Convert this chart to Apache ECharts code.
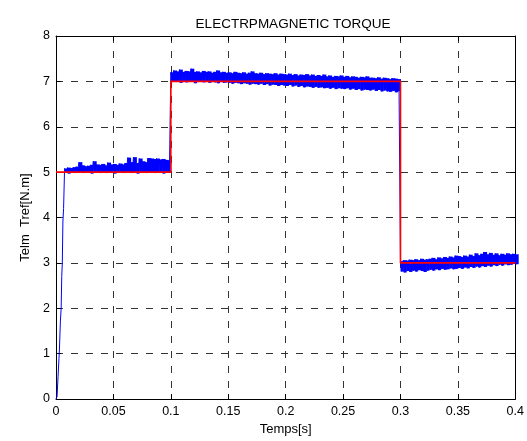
<!DOCTYPE html>
<html>
<head>
<meta charset="utf-8">
<script src="https://cdn.jsdelivr.net/npm/echarts@6/dist/echarts.min.js"></script>
<style>
  html, body { margin: 0; padding: 0; background: #fff; }
  #chart { width: 527px; height: 441px; }
</style>
</head>
<body>
<div id="chart"></div>
<script>
// Axis ranges and tick values
const X_TICKS = [0, 0.05, 0.1, 0.15, 0.2, 0.25, 0.3, 0.35, 0.4];
const Y_TICKS = [0, 1, 2, 3, 4, 5, 6, 7, 8];

// Reference torque Tref: step levels between switching instants
const REF_T = [0, 0.1, 0.1, 0.3, 0.3, 0.4];
const REF_V = [5, 5, 7, 7, 3, 3];

// Electromagnetic torque Telm: start-up rise
const RISE_T = [0, 0.0009, 0.0018, 0.0026, 0.003, 0.0038, 0.0045, 0.005, 0.0055, 0.006, 0.0066, 0.0074];
const RISE_V = [0, 0.05, 0.5, 0.9, 1.1, 1.7, 2.0, 2.7, 3.0, 3.9, 4.2, 5.0];

// Telm ripple band, sampled every 2.5 ms: upper / lower peaks
const SAMPLE_STEP = 0.0025;

const SEG1_START = 0.0075;
const SEG1_UPPER = [5.08, 5.10, 5.09, 5.11, 5.12, 5.22, 5.15, 5.13, 5.14, 5.16,
                    5.24, 5.17, 5.16, 5.18, 5.15, 5.21, 5.17, 5.18, 5.16, 5.19,
                    5.17, 5.20, 5.32, 5.22, 5.33, 5.20, 5.30, 5.24, 5.22, 5.31,
                    5.30, 5.29, 5.30, 5.28, 5.29, 5.27, 5.26];
const SEG1_LOWER = [4.99, 4.97, 5.00, 4.98, 5.00, 4.99, 4.98, 5.00, 4.99, 4.97,
                    5.00, 4.99, 4.98, 5.00, 4.98, 4.99, 5.00, 4.97, 4.99, 5.00,
                    4.98, 4.99, 5.00, 4.98, 4.99, 4.97, 5.00, 4.99, 4.98, 5.00,
                    4.99, 4.98, 5.00, 4.99, 4.97, 4.99, 5.00];

const SEG2_START = 0.1;
const SEG2_UPPER = [7.20, 7.24, 7.22, 7.26, 7.21, 7.23, 7.22, 7.28, 7.21, 7.22,
                    7.20, 7.23, 7.21, 7.22, 7.19, 7.21, 7.24, 7.20, 7.21, 7.19,
                    7.20, 7.18, 7.21, 7.19, 7.18, 7.20, 7.17, 7.19, 7.22, 7.18,
                    7.17, 7.19, 7.16, 7.18, 7.17, 7.16, 7.18, 7.15, 7.17, 7.16,
                    7.15, 7.17, 7.14, 7.16, 7.13, 7.15, 7.14, 7.16, 7.13, 7.15,
                    7.12, 7.14, 7.12, 7.15, 7.11, 7.13, 7.10, 7.12, 7.11, 7.13,
                    7.10, 7.12, 7.09, 7.11, 7.10, 7.08, 7.10, 7.09, 7.11, 7.08,
                    7.08, 7.07, 7.09, 7.06, 7.08, 7.07, 7.05, 7.07, 7.06, 7.05];
const SEG2_LOWER = [7.00, 6.99, 7.01, 6.97, 7.00, 6.98, 7.00, 6.99, 6.96, 7.00,
                    6.99, 6.98, 7.00, 6.97, 6.99, 6.98, 6.96, 6.99, 6.97, 6.98,
                    6.97, 6.95, 6.97, 6.96, 6.94, 6.96, 6.95, 6.93, 6.95, 6.94,
                    6.93, 6.95, 6.92, 6.94, 6.91, 6.93, 6.92, 6.90, 6.92, 6.91,
                    6.90, 6.92, 6.89, 6.91, 6.88, 6.90, 6.87, 6.89, 6.88, 6.86,
                    6.88, 6.86, 6.87, 6.85, 6.86, 6.84, 6.86, 6.83, 6.85, 6.84,
                    6.83, 6.85, 6.82, 6.84, 6.81, 6.83, 6.80, 6.82, 6.81, 6.80,
                    6.82, 6.79, 6.81, 6.78, 6.80, 6.78, 6.77, 6.79, 6.76, 6.78];

const SEG3_START = 0.3;
const SEG3_UPPER = [3.04, 3.06, 3.05, 3.07, 3.06, 3.08, 3.06, 3.09, 3.07, 3.08,
                    3.09, 3.11, 3.08, 3.12, 3.10, 3.13, 3.11, 3.14, 3.12, 3.16,
                    3.15, 3.13, 3.16, 3.14, 3.18, 3.15, 3.21, 3.17, 3.20, 3.24,
                    3.19, 3.22, 3.18, 3.21, 3.17, 3.20, 3.18, 3.21, 3.19, 3.20, 3.19];
const SEG3_LOWER = [2.81, 2.79, 2.82, 2.80, 2.83, 2.81, 2.84, 2.82, 2.80, 2.83,
                    2.85, 2.83, 2.86, 2.84, 2.87, 2.85, 2.86, 2.88, 2.86, 2.87,
                    2.89, 2.87, 2.90, 2.88, 2.91, 2.89, 2.92, 2.90, 2.93, 2.91,
                    2.94, 2.92, 2.95, 2.93, 2.96, 2.94, 2.97, 2.95, 2.96, 2.98, 2.97];

const SEGMENTS = [
  { start: SEG1_START, upper: SEG1_UPPER, lower: SEG1_LOWER },
  { start: SEG2_START, upper: SEG2_UPPER, lower: SEG2_LOWER },
  { start: SEG3_START, upper: SEG3_UPPER, lower: SEG3_LOWER }
];

// Telm trace: rise, then alternate upper/lower peaks half a step apart
const telm = RISE_T.map((t, i) => [t, RISE_V[i]]);
// Ripple band as rectangles [t0, t1, lower, upper] drawn through the axes
const band = [];
SEGMENTS.forEach(seg => {
  const n = Math.min(seg.upper.length, seg.lower.length);
  for (let i = 0; i < n; i++) {
    const t = seg.start + i * SAMPLE_STEP;
    telm.push([t, seg.upper[i]]);
    telm.push([t + SAMPLE_STEP / 2, seg.lower[i]]);
    band.push([t, t + SAMPLE_STEP, seg.lower[i], seg.upper[i]]);
  }
});

const tref = REF_T.map((t, i) => [t, REF_V[i]]);

const BLUE = '#0000ff';
const FONT = '"Liberation Sans", Arial, Helvetica, sans-serif';
const dashed = { color: '#333', width: 1, type: [7, 8] };
const tickStyle = { show: true, inside: true, length: 5, lineStyle: { color: '#000' } };
const frame = { show: true, onZero: false, lineStyle: { color: '#000', width: 1 } };

const chart = echarts.init(document.getElementById('chart'), null, { renderer: 'canvas' });
chart.setOption({
  animation: false,
  backgroundColor: '#fff',
  title: {
    text: 'ELECTRPMAGNETIC TORQUE',
    left: 288, top: 12, textAlign: 'center',
    textStyle: { fontFamily: FONT, fontSize: 13.5, fontWeight: 'normal', color: '#000' }
  },
  grid: { left: 56, right: 7, top: 36, bottom: 36 },
  xAxis: [{
    type: 'value', min: 0, max: 0.4, interval: 0.05,
    name: 'Temps[s]', nameLocation: 'middle', nameGap: 24,
    nameTextStyle: { fontFamily: FONT, fontSize: 13, color: '#000' },
    axisLine: frame, axisTick: tickStyle,
    axisLabel: {
      fontFamily: FONT, fontSize: 12.5, color: '#000', margin: 6,
      customValues: X_TICKS, formatter: v => String(+v.toFixed(2))
    },
    splitLine: { show: true, lineStyle: dashed }
  }, {
    type: 'value', position: 'top', min: 0, max: 0.4, interval: 0.05,
    axisLine: frame, axisTick: tickStyle, axisLabel: { show: false }, splitLine: { show: false }
  }],
  yAxis: [{
    type: 'value', min: 0, max: 8, interval: 1,
    name: 'Telm  Tref[N.m]', nameLocation: 'middle', nameGap: 21,
    nameTextStyle: { fontFamily: FONT, fontSize: 13, color: '#000' },
    axisLine: frame, axisTick: tickStyle,
    axisLabel: { fontFamily: FONT, fontSize: 12.5, color: '#000', margin: 6, customValues: Y_TICKS },
    splitLine: { show: true, lineStyle: dashed }
  }, {
    type: 'value', position: 'right', min: 0, max: 8, interval: 1,
    axisLine: frame, axisTick: tickStyle, axisLabel: { show: false }, splitLine: { show: false }
  }],
  series: [{
    name: 'Telm band', type: 'custom', data: band, z: 2, silent: true,
    encode: { x: [0, 1], y: [2, 3] },
    renderItem: (params, api) => {
      const p0 = api.coord([api.value(0), api.value(3)]);
      const p1 = api.coord([api.value(1), api.value(2)]);
      return {
        type: 'rect',
        shape: { x: p0[0], y: p0[1], width: p1[0] - p0[0] + 0.5, height: p1[1] - p0[1] },
        style: { fill: BLUE }
      };
    }
  }, {
    name: 'Telm', type: 'line', data: telm, showSymbol: false, z: 3,
    lineStyle: { color: BLUE, width: 1 }
  }, {
    name: 'Tref', type: 'line', data: tref, showSymbol: false, z: 4,
    lineStyle: { color: '#ff0000', width: 1.6 }
  }]
});
</script>
</body>
</html>
